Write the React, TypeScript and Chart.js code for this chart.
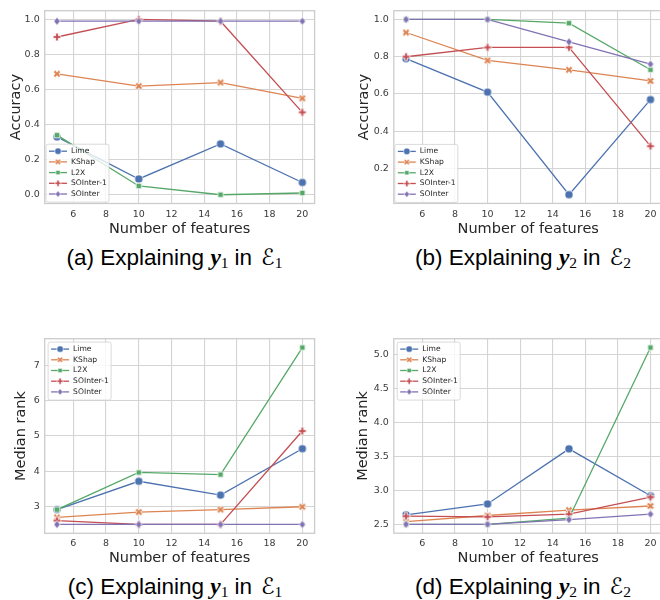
import React, { useEffect, useRef } from "react";
import { Chart, registerables } from "chart.js";

Chart.register(...registerables);

// ---------- data ----------
const FEATURES = [5, 10, 15, 20];
const X_TICKS = [6, 8, 10, 12, 14, 16, 18, 20];
const SERIES_NAMES = ["Lime", "KShap", "L2X", "SOInter-1", "SOInter"];
const SERIES_COLORS = ["#4C72B0", "#DD8452", "#55A868", "#C44E52", "#8172B3"];
const SERIES_MARKERS = ["circle", "x", "square", "plus", "diamond"];

// (a) accuracy, y1 in E1
const A_LIME = [0.33, 0.09, 0.29, 0.07];
const A_KSHAP = [0.69, 0.62, 0.64, 0.55];
const A_L2X = [0.34, 0.05, 0.0, 0.01];
const A_SOINTER1 = [0.9, 1.0, 0.99, 0.47];
const A_SOINTER = [0.99, 0.99, 0.99, 0.99];
const A_TICKS = [0, 0.2, 0.4, 0.6, 0.8, 1.0];

// (b) accuracy, y2 in E2
const B_LIME = [0.79, 0.61, 0.06, 0.57];
const B_KSHAP = [0.93, 0.78, 0.73, 0.67];
const B_L2X = [1.0, 1.0, 0.98, 0.73];
const B_SOINTER1 = [0.8, 0.85, 0.85, 0.32];
const B_SOINTER = [1.0, 1.0, 0.88, 0.76];
const B_TICKS = [0.2, 0.4, 0.6, 0.8, 1.0];

// (c) median rank, y1 in E1
const C_LIME = [2.92, 3.72, 3.33, 4.64];
const C_KSHAP = [2.7, 2.85, 2.92, 3.0];
const C_L2X = [2.92, 3.97, 3.91, 7.5];
const C_SOINTER1 = [2.61, 2.5, 2.5, 5.14];
const C_SOINTER = [2.5, 2.5, 2.5, 2.5];
const C_TICKS = [3, 4, 5, 6, 7];

// (d) median rank, y2 in E2
const D_LIME = [2.64, 2.8, 3.61, 2.92];
const D_KSHAP = [2.54, 2.63, 2.71, 2.77];
const D_L2X = [2.5, 2.5, 2.59, 5.1];
const D_SOINTER1 = [2.62, 2.61, 2.65, 2.9];
const D_SOINTER = [2.5, 2.5, 2.57, 2.65];
const D_TICKS = [2.5, 3.0, 3.5, 4.0, 4.5, 5.0];

const X_LABEL = "Number of features";

// ---------- styles ----------
const FONT = "'DejaVu Sans', sans-serif";
const GRID = "#d4d4d4";
const FRAME = "#cccccc";
const TICK_COLOR = "#3a3a3a";
const TITLE_COLOR = "#262626";
const TITLE_SIZE = 14.5;

type PanelSpec = {
  letter: string;
  ysub: string;
  series: number[][];
  yTicks: number[];
  yDecimals: number;
  yTitle: string;
  legendPos: "top" | "bottom";
  legendPad: number;
  plot: { left: number; right: number; top: number; bottom: number };
  yTitleX: number;
  xTitleY: number;
  captionX: number;
  captionBaseline: number;
};

const PANELS: PanelSpec[] = [
  {
    letter: "a", ysub: "1",
    series: [A_LIME, A_KSHAP, A_L2X, A_SOINTER1, A_SOINTER],
    yTicks: A_TICKS, yDecimals: 1, yTitle: "Accuracy",
    legendPos: "bottom", legendPad: 1.3,
    plot: { left: 44.7, right: 314.6, top: 2.2, bottom: 203.5 },
    yTitleX: 16.5, xTitleY: 229, captionX: 174.5, captionBaseline: 265,
  },
  {
    letter: "b", ysub: "2",
    series: [B_LIME, B_KSHAP, B_L2X, B_SOINTER1, B_SOINTER],
    yTicks: B_TICKS, yDecimals: 1, yTitle: "Accuracy",
    legendPos: "bottom", legendPad: 1.0,
    plot: { left: 393.8, right: 663, top: 2.2, bottom: 203.4 },
    yTitleX: 364.5, xTitleY: 229, captionX: 523, captionBaseline: 265,
  },
  {
    letter: "c", ysub: "1",
    series: [C_LIME, C_KSHAP, C_L2X, C_SOINTER1, C_SOINTER],
    yTicks: C_TICKS, yDecimals: 0, yTitle: "Median rank",
    legendPos: "top", legendPad: 3.4,
    plot: { left: 44.7, right: 314.6, top: 331.1, bottom: 533.3 },
    yTitleX: 21.6, xTitleY: 558, captionX: 175, captionBaseline: 593.5,
  },
  {
    letter: "d", ysub: "2",
    series: [D_LIME, D_KSHAP, D_L2X, D_SOINTER1, D_SOINTER],
    yTicks: D_TICKS, yDecimals: 1, yTitle: "Median rank",
    legendPos: "top", legendPad: 3.4,
    plot: { left: 393.8, right: 663, top: 331.5, bottom: 533.2 },
    yTitleX: 363, xTitleY: 558, captionX: 523, captionBaseline: 593.5,
  },
];

// ---------- markers ----------
function makeMarker(kind: string, color: string): HTMLCanvasElement {
  const s = 16;
  const c = document.createElement("canvas");
  c.width = s;
  c.height = s;
  const ctx = c.getContext("2d")!;
  ctx.translate(s / 2, s / 2);
  const S = kind === "circle" ? 8.2 : 7.8;
  ctx.beginPath();
  if (kind === "circle") {
    ctx.arc(0, 0, S / 2, 0, Math.PI * 2);
  } else if (kind === "square") {
    const h = S / 2 / Math.SQRT2;
    ctx.rect(-h, -h, 2 * h, 2 * h);
  } else if (kind === "diamond") {
    const r = S / 2;
    ctx.moveTo(0, -r);
    ctx.lineTo(r * 0.85, 0);
    ctx.lineTo(0, r);
    ctx.lineTo(-r * 0.85, 0);
    ctx.closePath();
  } else {
    const pts = [
      [-1, -3], [1, -3], [1, -1], [3, -1], [3, 1], [1, 1],
      [1, 3], [-1, 3], [-1, 1], [-3, 1], [-3, -1], [-1, -1],
    ];
    const rot = kind === "x" ? Math.PI / 4 : 0;
    const k = S / 6;
    pts.forEach(([px, py], i) => {
      const x = (px * Math.cos(rot) - py * Math.sin(rot)) * k;
      const y = (px * Math.sin(rot) + py * Math.cos(rot)) * k;
      if (i === 0) ctx.moveTo(x, y);
      else ctx.lineTo(x, y);
    });
    ctx.closePath();
  }
  ctx.fillStyle = color;
  ctx.fill();
  ctx.strokeStyle = "#ffffff";
  ctx.lineWidth = 0.8;
  ctx.stroke();
  return c;
}

// ---------- plugins ----------
const framePlugin = {
  id: "frame",
  beforeDatasetsDraw(chart: any) {
    const { ctx, chartArea } = chart;
    ctx.save();
    ctx.strokeStyle = FRAME;
    ctx.lineWidth = 1.3;
    ctx.strokeRect(chartArea.left, chartArea.top, chartArea.right - chartArea.left, chartArea.bottom - chartArea.top);
    ctx.restore();
  },
};

const innerLegendPlugin = {
  id: "innerLegend",
  afterDatasetsDraw(chart: any, _args: any, opts: any) {
    const { ctx, chartArea } = chart;
    const w = 63;
    const h = 58;
    const x0 = chartArea.left + opts.pad;
    const y0 = opts.pos === "top" ? chartArea.top + opts.pad : chartArea.bottom - opts.pad - h;
    ctx.save();
    const r = 2;
    ctx.beginPath();
    ctx.moveTo(x0 + r, y0);
    ctx.lineTo(x0 + w - r, y0);
    ctx.arcTo(x0 + w, y0, x0 + w, y0 + r, r);
    ctx.lineTo(x0 + w, y0 + h - r);
    ctx.arcTo(x0 + w, y0 + h, x0 + w - r, y0 + h, r);
    ctx.lineTo(x0 + r, y0 + h);
    ctx.arcTo(x0, y0 + h, x0, y0 + h - r, r);
    ctx.lineTo(x0, y0 + r);
    ctx.arcTo(x0, y0, x0 + r, y0, r);
    ctx.closePath();
    ctx.fillStyle = "rgba(255,255,255,0.8)";
    ctx.fill();
    ctx.strokeStyle = "#d0d0d0";
    ctx.lineWidth = 0.8;
    ctx.stroke();
    const markers: HTMLCanvasElement[] = opts.markers;
    SERIES_NAMES.forEach((name, i) => {
      const y = y0 + 7 + i * 10.7;
      ctx.strokeStyle = SERIES_COLORS[i];
      ctx.lineWidth = 1.3;
      ctx.beginPath();
      ctx.moveTo(x0 + 3, y);
      ctx.lineTo(x0 + 21, y);
      ctx.stroke();
      const m = markers[i];
      const sc = 0.8;
      ctx.drawImage(m, x0 + 12 - (m.width * sc) / 2, y - (m.height * sc) / 2, m.width * sc, m.height * sc);
      ctx.fillStyle = TITLE_COLOR;
      ctx.font = `7.6px ${FONT}`;
      ctx.textBaseline = "middle";
      ctx.textAlign = "left";
      ctx.fillText(name, x0 + 25, y);
    });
    ctx.restore();
  },
};

// ---------- helpers ----------
function dataRange(series: number[][]) {
  const all = series.flat();
  const lo = Math.min(...all);
  const hi = Math.max(...all);
  const m = (hi - lo) * 0.05;
  return { min: lo - m, max: hi + m };
}

function geometry(p: PanelSpec) {
  const half = TITLE_SIZE / 2;
  const canvasLeft = Math.floor(p.yTitleX - half);
  const yTitlePad = p.yTitleX - half - canvasLeft;
  const canvasTop = Math.max(0, Math.floor(p.plot.top - 3));
  const padTop = p.plot.top - canvasTop;
  const width = Math.ceil(p.plot.right + 5 - canvasLeft);
  const padRight = canvasLeft + width - p.plot.right;
  const canvasBottom = Math.ceil(p.xTitleY + half);
  const height = canvasBottom - canvasTop;
  const xTitlePad = canvasBottom - p.xTitleY - half;
  const yScaleW = p.plot.left - canvasLeft;
  const xScaleH = canvasBottom - p.plot.bottom;
  return { canvasLeft, canvasTop, width, height, padTop, padRight, yTitlePad, xTitlePad, yScaleW, xScaleH };
}

function Panel({ spec }: { spec: PanelSpec }) {
  const ref = useRef<HTMLCanvasElement>(null);
  const g = geometry(spec);

  useEffect(() => {
    const markers = SERIES_COLORS.map((c, i) => makeMarker(SERIES_MARKERS[i], c));
    const yr = dataRange(spec.series);
    const xlo = Math.min(...FEATURES);
    const xhi = Math.max(...FEATURES);
    const xm = (xhi - xlo) * 0.05;
    const chart = new Chart(ref.current as HTMLCanvasElement, {
      type: "line",
      data: {
        datasets: spec.series.map((vals, i) => ({
          label: SERIES_NAMES[i],
          data: FEATURES.map((x, j) => ({ x, y: vals[j] })),
          borderColor: SERIES_COLORS[i],
          backgroundColor: SERIES_COLORS[i],
          borderWidth: 1.3,
          pointStyle: markers[i] as any,
          pointRadius: 4,
          pointHoverRadius: 4,
          tension: 0,
          order: SERIES_NAMES.length - 1 - i,
          clip: false as any,
        })),
      },
      plugins: [framePlugin, innerLegendPlugin],
      options: {
        animation: false,
        responsive: false,
        devicePixelRatio: 1,
        events: [],
        layout: { padding: { left: 0, top: g.padTop, right: g.padRight, bottom: 0 } },
        plugins: {
          legend: { display: false },
          tooltip: { enabled: false },
          innerLegend: { pos: spec.legendPos, pad: spec.legendPad, markers },
        } as any,
        scales: {
          x: {
            type: "linear",
            min: xlo - xm,
            max: xhi + xm,
            afterBuildTicks: (s: any) => {
              s.ticks = X_TICKS.map((v) => ({ value: v }));
            },
            afterFit: (s: any) => {
              s.height = g.xScaleH;
            },
            grid: { color: GRID, lineWidth: 1.1, drawTicks: false },
            border: { display: false },
            ticks: {
              padding: 5,
              autoSkip: false,
              maxRotation: 0,
              color: TICK_COLOR,
              font: { family: FONT, size: 9.5 },
              callback: (v: any) => String(v),
            },
            title: {
              display: true,
              text: X_LABEL,
              color: TITLE_COLOR,
              font: { family: FONT, size: TITLE_SIZE, lineHeight: 1 },
              padding: { top: 0, bottom: g.xTitlePad },
            },
          },
          y: {
            type: "linear",
            min: yr.min,
            max: yr.max,
            afterBuildTicks: (s: any) => {
              s.ticks = spec.yTicks.map((v) => ({ value: v }));
            },
            afterFit: (s: any) => {
              s.width = g.yScaleW;
            },
            grid: { color: GRID, lineWidth: 1.1, drawTicks: false },
            border: { display: false },
            ticks: {
              padding: 5,
              color: TICK_COLOR,
              font: { family: FONT, size: 9.5 },
              callback: (v: any) => Number(v).toFixed(spec.yDecimals),
            },
            title: {
              display: true,
              text: spec.yTitle,
              color: TITLE_COLOR,
              font: { family: FONT, size: TITLE_SIZE, lineHeight: 1 },
              padding: { top: g.yTitlePad, bottom: 0 },
            },
          },
        },
      } as any,
    });
    return () => chart.destroy();
  }, []);

  return (
    <canvas
      ref={ref}
      width={g.width}
      height={g.height}
      style={{ position: "absolute", left: g.canvasLeft, top: g.canvasTop, width: g.width, height: g.height }}
    />
  );
}

function Caption({ spec }: { spec: PanelSpec }) {
  const size = 22.5;
  const subStyle: React.CSSProperties = {
    fontFamily: "'Liberation Serif', serif",
    fontSize: 15.5,
    verticalAlign: "-0.22em",
    lineHeight: 0,
  };
  return (
    <div
      style={{
        position: "absolute",
        left: spec.captionX - 170,
        width: 340,
        top: spec.captionBaseline - 19.8,
        fontFamily: "'Liberation Sans', Arial, sans-serif",
        fontSize: size,
        lineHeight: "24px",
        textAlign: "center",
        color: "#000",
        whiteSpace: "nowrap",
      }}
    >
      ({spec.letter}) Explaining{" "}
      <span style={{ fontFamily: "'Liberation Serif', serif", fontWeight: 700, fontStyle: "italic", fontSize: 23.5 }}>y</span>
      <span style={subStyle}>{spec.ysub}</span>
      <span style={{ marginLeft: 6, marginRight: 9 }}>in</span>
      <span style={{ fontFamily: "'DejaVu Sans', sans-serif", fontSize: 22.5 }}>ℰ</span>
      <span style={subStyle}>{spec.ysub}</span>
    </div>
  );
}

export default function App() {
  return (
    <div
      style={{
        position: "absolute",
        left: 0,
        top: 0,
        width: 660,
        height: 600,
        overflow: "hidden",
        background: "#ffffff",
      }}
    >
      {PANELS.map((p) => (
        <Panel key={p.letter} spec={p} />
      ))}
      {PANELS.map((p) => (
        <Caption key={"c" + p.letter} spec={p} />
      ))}
    </div>
  );
}
